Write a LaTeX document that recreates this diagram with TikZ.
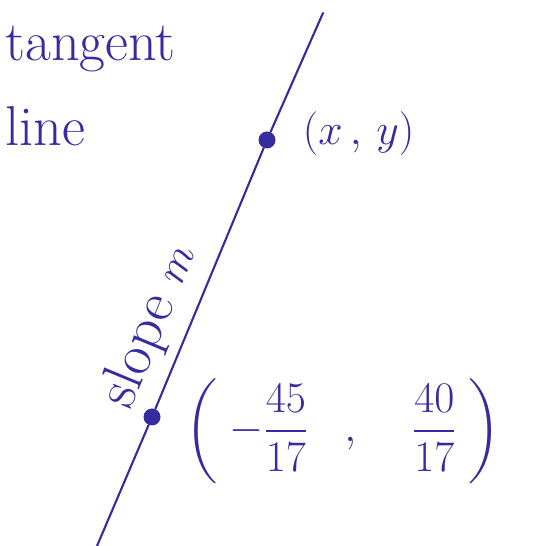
\documentclass[tikz,border=0pt]{standalone}
\usepackage{amsmath}
\definecolor{ink}{RGB}{52,44,160}
\tikzset{
    pen/.style={draw=ink, line width=1.2pt, line cap=round},
    dot/.style={circle, fill=ink, inner sep=0pt, minimum size=0.34cm},
    label/.style={text=ink, inner sep=0pt}
}
\begin{document}
\begin{tikzpicture}
    \useasboundingbox (0,0) rectangle (10.76,10.92);
    
    % End points of the tangent line
    \coordinate (Bot) at (1.94,0);
    \coordinate (Top) at (6.46,10.66);
    
    % The two marked points
    \node[dot] (P) at (3.04,2.58) {};
    \node[dot] (Q) at (5.34,8.12) {};
    
    % Draw the tangent line through both points
    \draw[pen] (Bot) -- (P) -- (Q) -- (Top);
    
    % Labels
    \node[label, anchor=north west, align=left, font=\fontsize{32}{48}\selectfont] (tangent) at (0.1,10.4) {tangent\\line};
    \node[label, anchor=west, font=\fontsize{44}{50}\selectfont] (xy) at (6.05,8.25) {$(x\,,\,y)$};
    \node[label, rotate=67.5, font=\fontsize{33}{38}\selectfont] (slope) at (3.0,4.4) {slope $m$};
    \node[label, anchor=west, font=\fontsize{36}{42}\selectfont] (pt) at (3.7,2.3) {$\left(\;-\dfrac{45}{17}\;\;\;,\;\;\;\;\dfrac{40}{17}\;\right)$};
    
\end{tikzpicture}
\end{document}
